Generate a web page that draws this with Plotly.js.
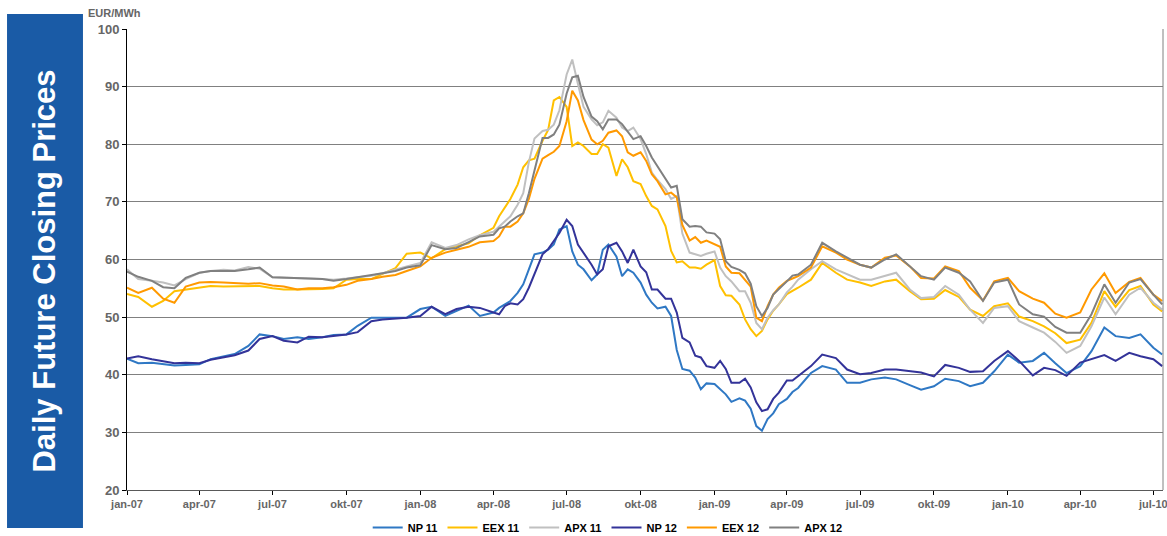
<!DOCTYPE html>
<html>
<head>
<meta charset="utf-8">
<script src="https://cdn.plot.ly/plotly-3.0.1.min.js"></script>
<style>
  html, body { margin: 0; padding: 0; background: #ffffff; }
  #chart { width: 1167px; height: 536px; }
</style>
</head>
<body>
<div id="chart"></div>
<script>
const dates = [
  '2007-01-01','2007-01-15','2007-02-01','2007-02-15','2007-03-01','2007-03-15','2007-04-01','2007-04-15',
  '2007-05-01','2007-05-15','2007-06-01','2007-06-15','2007-07-01','2007-07-15','2007-08-01','2007-08-15',
  '2007-09-01','2007-09-15','2007-10-01','2007-10-15','2007-11-01','2007-11-15','2007-12-01','2007-12-15',
  '2008-01-01','2008-01-15','2008-02-01','2008-02-15','2008-03-01','2008-03-15',
  '2008-04-01','2008-04-08','2008-04-15','2008-04-22','2008-05-01','2008-05-08','2008-05-15','2008-05-22',
  '2008-06-01','2008-06-08','2008-06-15','2008-06-22','2008-07-01','2008-07-08','2008-07-15','2008-07-22',
  '2008-08-01','2008-08-08','2008-08-15','2008-08-22','2008-09-01','2008-09-08','2008-09-15','2008-09-22',
  '2008-10-01','2008-10-08','2008-10-15','2008-10-22','2008-11-01','2008-11-08','2008-11-15','2008-11-22',
  '2008-12-01','2008-12-08','2008-12-15','2008-12-22','2009-01-01','2009-01-08','2009-01-15','2009-01-22',
  '2009-02-01','2009-02-08','2009-02-15','2009-02-22','2009-03-01','2009-03-08','2009-03-15','2009-03-22',
  '2009-04-01','2009-04-08','2009-04-15',
  '2009-05-01','2009-05-15','2009-06-01','2009-06-15','2009-07-01','2009-07-15','2009-08-01','2009-08-15',
  '2009-09-01','2009-09-15','2009-10-01','2009-10-15','2009-11-01','2009-11-15','2009-12-01','2009-12-15',
  '2010-01-01','2010-01-15','2010-02-01','2010-02-15','2010-03-01','2010-03-15','2010-04-01','2010-04-15',
  '2010-05-01','2010-05-15','2010-06-01','2010-06-15','2010-07-01','2010-07-12'
];

const np11 = [
  42.8,42.0,42.1,41.8,41.6,41.7,41.8,42.7,43.2,43.6,45.0,47.0,46.7,46.2,46.5,46.2,
  46.5,46.9,47.0,48.5,49.9,49.9,49.9,49.9,51.4,51.8,50.2,51.1,52.0,50.2,
  50.8,51.6,52.2,52.8,54.2,55.7,58.3,60.9,61.2,61.7,62.6,65.2,65.8,61.4,59.1,58.3,
  56.4,57.4,61.7,62.6,60.5,57.1,58.3,57.7,56.0,53.9,52.5,51.5,51.8,50.2,44.3,41.0,
  40.7,39.5,37.5,38.5,38.4,37.5,36.6,35.3,35.9,35.5,34.1,31.1,30.3,32.3,33.3,34.9,
  35.8,37.0,37.7,
  40.3,41.5,40.9,38.6,38.6,39.2,39.5,39.2,38.2,37.4,38.0,39.3,38.9,38.0,38.6,40.6,
  43.5,42.1,42.4,43.8,42.0,40.3,41.5,44.1,48.2,46.7,46.4,47.0,44.7,43.5
];
const eex11 = [
  54.0,53.5,51.8,52.8,54.5,54.8,55.2,55.4,55.3,55.3,55.4,55.4,55.0,54.8,54.8,54.8,
  54.9,55.0,56.5,56.6,56.6,57.5,58.5,61.0,61.2,60.2,61.8,62.3,62.8,64.2,
  65.5,67.5,68.9,70.5,73.0,76.0,77.2,77.5,80.6,82.5,87.6,88.2,86.5,79.7,80.3,79.7,
  78.3,78.3,80.0,79.4,74.5,77.4,76.0,73.6,73.1,71.0,69.3,68.7,65.8,61.5,59.5,59.7,
  58.6,58.6,58.4,59.1,59.9,55.4,53.8,53.7,52.2,49.6,47.9,46.7,47.6,49.6,51.1,52.2,
  54.0,54.5,55.1,
  56.5,59.4,57.7,56.5,56.0,55.4,56.2,56.5,54.5,53.1,53.2,54.7,53.5,51.3,50.2,51.9,
  52.4,50.1,49.3,48.4,47.2,45.5,46.1,49.0,54.5,51.8,54.7,55.4,52.2,51.0
];
const apx11 = [
  58.3,56.6,56.3,56.0,55.5,56.6,57.7,58.0,58.2,58.1,58.7,58.4,56.9,56.8,56.7,56.7,
  56.6,56.5,56.7,56.9,57.2,57.6,58.3,58.8,59.4,63.0,62.0,62.5,63.5,64.2,
  64.8,65.7,66.6,67.5,69.5,71.5,76.9,81.0,82.3,82.5,83.4,85.9,92.1,94.7,90.5,86.5,
  84.3,83.3,83.8,85.8,84.6,82.9,82.3,82.9,80.9,78.3,75.1,73.8,72.2,70.5,71.0,64.5,
  61.2,60.9,60.6,61.0,61.4,58.6,57.1,56.2,54.5,54.5,52.5,49.0,47.9,49.9,51.2,52.2,
  54.3,55.3,56.5,
  58.3,59.7,58.3,57.4,56.5,56.5,57.1,57.7,54.8,53.3,53.5,55.4,53.9,51.3,49.0,51.6,
  51.9,49.3,48.2,47.3,45.7,43.8,45.0,48.4,53.4,50.5,53.9,55.1,52.5,51.3
];
const np12 = [
  42.8,43.2,42.7,42.4,42.0,42.1,42.0,42.6,43.0,43.4,44.2,46.2,46.7,45.9,45.6,46.6,
  46.5,46.7,47.0,47.4,49.3,49.6,49.7,49.9,50.2,51.8,50.5,51.4,51.8,51.6,
  50.8,50.5,51.9,52.4,52.2,53.1,55.1,57.4,60.9,61.8,63.2,64.6,66.9,65.8,62.6,61.2,
  59.1,57.4,58.3,62.3,62.9,61.4,59.4,61.7,58.8,57.8,54.8,54.8,53.2,53.2,50.8,46.4,
  45.6,43.3,43.0,41.5,41.2,42.4,41.0,38.6,38.6,39.3,37.8,35.2,33.7,34.0,35.8,36.9,
  39.0,39.0,39.8,
  41.5,43.5,42.9,40.9,40.1,40.3,40.9,40.9,40.6,40.4,39.7,41.7,41.2,40.5,40.6,42.4,
  44.1,42.4,39.9,41.2,40.8,39.8,42.1,42.7,43.4,42.4,43.8,43.2,42.7,41.5
];
const eex12 = [
  55.1,54.2,55.1,53.2,52.5,55.3,56.0,56.1,56.0,55.9,55.8,55.9,55.5,55.3,54.8,55.0,
  55.0,55.2,55.6,56.3,56.6,57.0,57.3,58.0,58.8,60.3,61.2,61.7,62.2,63.0,
  63.2,64.0,65.7,65.7,66.6,68.0,70.5,74.0,77.5,78.1,78.7,79.7,84.0,89.3,87.6,84.2,
  80.8,80.0,80.6,82.0,82.4,81.4,78.6,78.0,78.6,77.1,74.8,73.6,71.3,71.6,70.8,66.0,
  63.3,63.9,62.9,63.3,62.6,62.2,58.8,57.7,57.6,56.4,55.3,49.9,49.3,51.9,53.9,55.1,
  56.3,56.7,57.1,
  58.6,62.3,61.2,60.0,59.1,58.6,60.3,60.7,58.8,56.8,56.7,58.8,58.0,55.1,52.9,56.2,
  56.8,54.5,53.2,52.5,50.6,49.9,50.8,54.8,57.6,54.2,56.1,56.8,53.9,52.8
];
const apx12 = [
  57.9,57.0,56.3,55.2,55.0,56.8,57.7,58.0,58.0,58.0,58.3,58.6,56.9,56.8,56.8,56.7,
  56.6,56.3,56.6,56.9,57.2,57.6,58.0,58.6,59.0,62.5,61.8,62.0,63.0,64.0,
  64.3,65.4,65.7,66.6,67.5,68.0,71.5,75.5,81.1,81.1,81.7,83.4,88.8,91.6,91.9,88.2,
  84.8,84.0,82.6,84.3,84.3,83.5,82.3,80.9,81.4,79.7,77.7,76.2,73.9,72.5,72.8,67.0,
  65.7,65.8,65.7,64.7,64.5,63.5,59.7,58.7,58.2,57.6,55.8,51.9,50.2,51.6,53.9,54.8,
  56.2,57.2,57.4,
  59.1,62.9,61.4,60.3,59.1,58.6,60.0,60.9,58.8,57.1,56.5,58.6,57.7,56.2,52.8,56.0,
  56.5,52.2,50.5,50.1,48.3,47.3,47.3,50.5,55.7,52.5,56.0,56.6,53.9,52.2
];

const seriesNames = ['NP 11','EEX 11','APX 11','NP 12','EEX 12','APX 12'];
const seriesValues = [np11, eex11, apx11, np12, eex12, apx12];
const seriesColors = ['#2F78C4','#FFC000','#C0C0C0','#333399','#FF9900','#808080'];

const tickDates = ['2007-01-01','2007-04-01','2007-07-01','2007-10-01','2008-01-01','2008-04-01','2008-07-01','2008-10-01',
                   '2009-01-01','2009-04-01','2009-07-01','2009-10-01','2010-01-01','2010-04-01','2010-07-01'];
const tickLabels = ['jan-07','apr-07','jul-07','okt-07','jan-08','apr-08','jul-08','okt-08',
                    'jan-09','apr-09','jul-09','okt-09','jan-10','apr-10','jul-10'];
const yTicks = [20,30,40,50,60,70,80,90,100];

const sideTitle = 'Daily Future Closing Prices';
const unitLabel = 'EUR/MWh';

const FONT = '"Liberation Sans", Arial, sans-serif';

const traces = seriesNames.map((name, i) => ({
  type: 'scatter',
  mode: 'lines',
  name: name,
  x: dates,
  y: seriesValues[i],
  line: { color: seriesColors[i], width: 2 },
  hoverinfo: 'skip'
}));

const layout = {
  width: 1167,
  height: 536,
  margin: { l: 127, r: 4, t: 29, b: 46, autoexpand: false },
  paper_bgcolor: '#ffffff',
  plot_bgcolor: '#ffffff',
  font: { family: FONT, size: 11, color: '#000000' },
  showlegend: true,
  legend: {
    orientation: 'h',
    x: 0.464, xanchor: 'center',
    y: -0.05, yanchor: 'top',
    font: { family: FONT, size: 11, color: '#000000', weight: 'bold' },
    bgcolor: 'rgba(0,0,0,0)',
    itemwidth: 30,
    tracegroupgap: 0
  },
  xaxis: {
    type: 'date',
    range: ['2007-01-01', '2010-07-13'],
    tickmode: 'array',
    tickvals: tickDates,
    ticktext: tickLabels,
    ticks: 'outside',
    ticklen: 4,
    tickcolor: '#000000',
    ticklabeloverflow: 'allow',
    tickfont: { family: FONT, size: 11, color: '#666666', weight: 'bold' },
    showgrid: false,
    showline: true,
    linecolor: '#595959',
    linewidth: 1,
    zeroline: false,
    fixedrange: true
  },
  yaxis: {
    range: [20, 100],
    tickmode: 'array',
    tickvals: yTicks,
    ticks: 'outside',
    ticklen: 4,
    tickcolor: '#000000',
    tickfont: { family: FONT, size: 13, color: '#666666', weight: 'bold' },
    showgrid: true,
    gridcolor: '#808080',
    gridwidth: 1,
    showline: true,
    linecolor: '#000000',
    linewidth: 1,
    zeroline: false,
    fixedrange: true
  },
  shapes: [
    { type: 'rect', xref: 'paper', yref: 'paper',
      x0: -0.1158, x1: -0.0425, y0: -0.0826, y1: 1.0326,
      fillcolor: '#1A5BA6', line: { width: 0 }, layer: 'below' },
    { type: 'line', xref: 'paper', yref: 'paper',
      x0: 1, x1: 1, y0: 0, y1: 1,
      line: { color: '#808080', width: 1 } }
  ],
  annotations: [
    { text: sideTitle, xref: 'paper', yref: 'paper', x: -0.0792, y: 0.476,
      xanchor: 'center', yanchor: 'middle', textangle: -90, showarrow: false,
      font: { family: FONT, size: 31, color: '#ffffff', weight: 'bold' } },
    { text: unitLabel, xref: 'paper', yref: 'paper', x: -0.0395, y: 1.0,
      xanchor: 'left', yanchor: 'bottom', yshift: 8, showarrow: false,
      font: { family: FONT, size: 11, color: '#666666', weight: 'bold' } }
  ]
};

Plotly.newPlot('chart', traces, layout, { displayModeBar: false, staticPlot: true });
</script>
</body>
</html>
